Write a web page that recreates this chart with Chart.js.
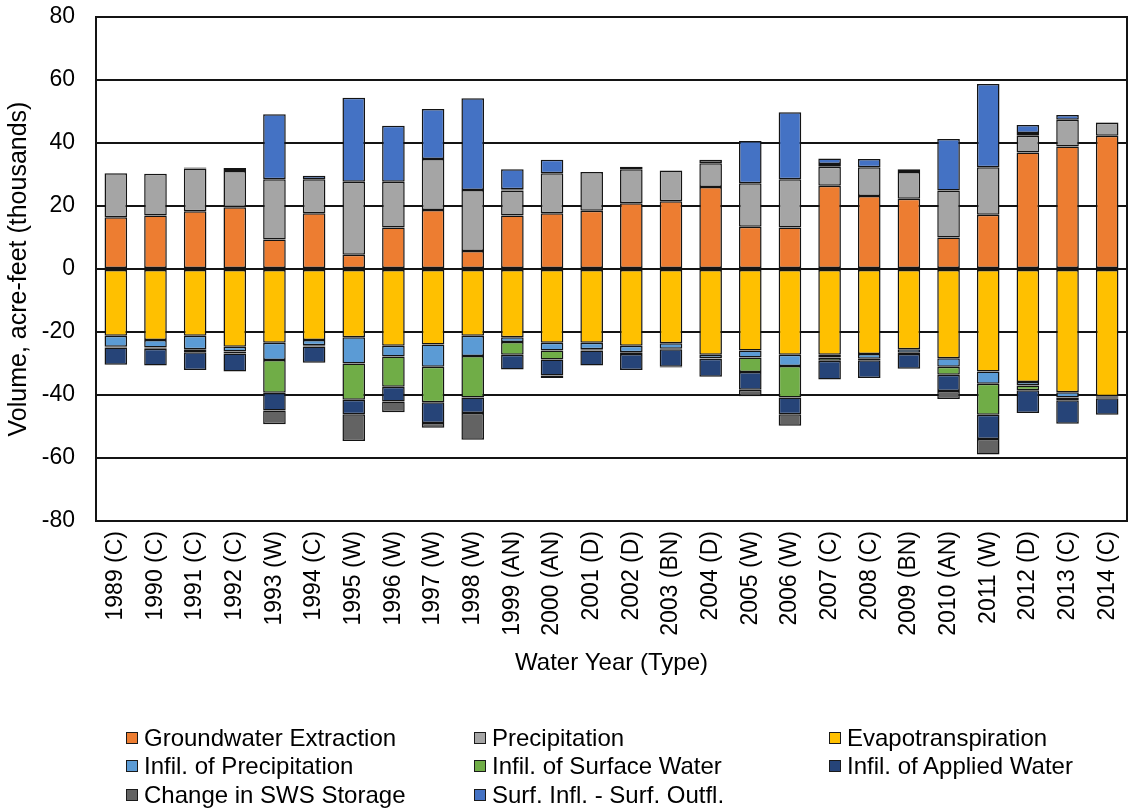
<!DOCTYPE html>
<html>
<head>
<meta charset="utf-8">
<script src="https://cdn.jsdelivr.net/npm/chart.js@4.4.1/dist/chart.umd.min.js"></script>
<style>
  html, body { margin: 0; padding: 0; background: #fff; }
  #wrap { position: relative; width: 1128px; height: 812px; }
  #legend { position: absolute; left: 0; top: 0; width: 1128px; height: 812px; pointer-events: none;
    font-family: "Liberation Sans", Arial, sans-serif; font-size: 24px; color: #000; }
  .item { position: absolute; display: flex; align-items: center; white-space: nowrap; height: 28px; }
  .swatch { width: 10px; height: 10px; border: 1.5px solid #1a1a1a; margin-right: 6px; }
</style>
</head>
<body>
<div id="wrap">
  <canvas id="budgetChart" width="1128" height="812"></canvas>
  <div id="legend"></div>
</div>
<script>
const years = ["1989 (C)", "1990 (C)", "1991 (C)", "1992 (C)", "1993 (W)", "1994 (C)",
  "1995 (W)", "1996 (W)", "1997 (W)", "1998 (W)", "1999 (AN)", "2000 (AN)", "2001 (D)",
  "2002 (D)", "2003 (BN)", "2004 (D)", "2005 (W)", "2006 (W)", "2007 (C)", "2008 (C)",
  "2009 (BN)", "2010 (AN)", "2011 (W)", "2012 (D)", "2013 (C)", "2014 (C)"];

// thousands of acre-feet
const groundwaterExtraction = [16.4, 17.0, 18.3, 19.6, 9.4, 17.7, 4.5, 13.2, 18.7, 5.7, 17.0, 17.7, 18.5,
  20.9, 21.5, 26.0, 13.4, 13.2, 26.4, 23.2, 22.3, 10.0, 17.2, 37.0, 38.9, 42.3];
const precipitation = [14.0, 13.2, 13.6, 11.5, 19.1, 10.8, 23.2, 14.5, 16.2, 19.4, 7.9, 12.7, 12.3,
  10.8, 9.8, 7.6, 13.8, 15.3, 6.1, 9.1, 8.5, 14.9, 15.1, 5.3, 8.5, 4.1];
const evapotranspiration = [-21.2, -22.5, -21.2, -24.7, -23.4, -22.5, -21.7, -24.4, -24.0, -21.2, -21.7, -23.4, -23.4,
  -24.4, -23.6, -27.2, -25.9, -27.2, -27.2, -27.0, -25.5, -28.3, -32.5, -35.9, -39.1, -40.4];
const infilPrecipitation = [-3.5, -2.4, -4.3, -1.5, -5.5, -1.7, -8.3, -3.4, -7.0, -6.4, -1.5, -2.5, -2.1,
  -2.0, -1.7, -1.1, -2.2, -3.6, -0.9, -1.5, -1.1, -2.7, -3.9, -1.1, -1.7, -0.3];
const infilSurfaceWater = [-0.2, -0.4, -0.9, -0.6, -10.4, -0.4, -11.5, -9.6, -11.3, -13.2, -4.0, -2.8, -0.4,
  -0.6, -0.2, -0.2, -4.6, -10.0, -1.0, -0.5, -0.4, -2.6, -9.9, -1.5, -0.9, -0.3];
const infilAppliedWater = [-5.5, -5.3, -5.7, -5.7, -5.6, -5.2, -4.6, -4.7, -6.6, -4.9, -4.7, -5.1, -4.7,
  -5.1, -5.5, -5.7, -5.6, -5.3, -6.0, -5.6, -4.7, -5.1, -7.7, -7.2, -7.4, -5.3];
const changeSwsStorage = [0, 0, 0.3, 1.0, -4.4, 0, -8.5, -3.4, -1.5, -8.5, 0.4, -0.8, 0,
  0.8, -0.3, 1.1, -2.1, -3.7, 0.8, 0, 0, -2.6, -4.9, 0.9, 0, 0.2];
const surfInflOutfl = [0, 0, 0, 0, 20.6, 1.1, 26.7, 17.8, 15.9, 29.1, 6.4, 4.3, 0,
  0, 0, 0, 13.4, 21.3, 1.8, 2.6, 0.9, 16.4, 26.4, 2.5, 1.5, 0];

const yTicks = [-80, -60, -40, -20, 0, 20, 40, 60, 80];

const series = [
  { label: "Groundwater Extraction", data: groundwaterExtraction, color: "#ED7D31" },
  { label: "Precipitation", data: precipitation, color: "#A5A5A5" },
  { label: "Evapotranspiration", data: evapotranspiration, color: "#FFC000" },
  { label: "Infil. of Precipitation", data: infilPrecipitation, color: "#5B9BD5" },
  { label: "Infil. of Surface Water", data: infilSurfaceWater, color: "#70AD47" },
  { label: "Infil. of Applied Water", data: infilAppliedWater, color: "#264478" },
  { label: "Change in SWS Storage", data: changeSwsStorage, color: "#636363" },
  { label: "Surf. Infl. - Surf. Outfl.", data: surfInflOutfl, color: "#4472C4" }
];

const FONT = "'Liberation Sans', Arial, sans-serif";
const INK = "#141414";

const frame = {
  id: "frame",
  afterDraw(chart) {
    const a = chart.chartArea, ctx = chart.ctx;
    ctx.save();
    ctx.strokeStyle = INK;
    ctx.lineWidth = 2;
    ctx.strokeRect(a.left, a.top, a.right - a.left, a.bottom - a.top);
    ctx.restore();
  }
};

new Chart(document.getElementById("budgetChart"), {
  type: "bar",
  data: {
    labels: years,
    datasets: series.map(s => ({
      label: s.label,
      data: s.data.map(v => (v === 0 ? null : v)),
      backgroundColor: s.color,
      borderColor: INK,
      borderWidth: 1.5,
      borderSkipped: false,
      stack: "budget",
      categoryPercentage: 1,
      barPercentage: 0.57
    }))
  },
  options: {
    responsive: false,
    animation: false,
    layout: { padding: { top: 17, right: 1, left: 0, bottom: 130 } },
    plugins: {
      legend: { display: false },
      tooltip: { enabled: false }
    },
    scales: {
      x: {
        stacked: true,
        grid: { display: false, drawTicks: false },
        border: { display: true, color: INK, width: 2 },
        ticks: {
          color: "#000",
          font: { family: FONT, size: 23 },
          minRotation: 90,
          maxRotation: 90,
          autoSkip: false,
          padding: 10
        },
        title: {
          display: true,
          text: "Water Year (Type)",
          color: "#000",
          font: { family: FONT, size: 24 },
          padding: { top: 0, bottom: 4 }
        },
        afterFit: (scale) => {
          scale.height = 812 - 130 - 521;
          scale.paddingLeft = 0;
          scale.paddingRight = 0;
        }
      },
      y: {
        stacked: true,
        min: -80,
        max: 80,
        afterBuildTicks: (scale) => { scale.ticks = yTicks.map(v => ({ value: v })); },
        grid: { color: INK, lineWidth: 2, drawTicks: false },
        border: { display: true, color: INK, width: 2 },
        ticks: {
          color: "#000",
          font: { family: FONT, size: 23 },
          padding: 21
        },
        title: {
          display: true,
          text: "Volume, acre-feet (thousands)",
          color: "#000",
          font: { family: FONT, size: 25 },
          padding: { top: 4, bottom: 0 }
        },
        afterFit: (scale) => {
          scale.width = 96;
          scale.paddingTop = 0;
          scale.paddingBottom = 0;
        }
      }
    }
  },
  plugins: [frame]
});

// legend in three columns, same order as the series
const legendEl = document.getElementById("legend");
const colX = [126, 474, 829];
const rowY = [724, 752, 781];
series.forEach((s, i) => {
  const item = document.createElement("div");
  item.className = "item";
  item.style.left = colX[i % 3] + "px";
  item.style.top = rowY[Math.floor(i / 3)] + "px";
  item.innerHTML = '<span class="swatch" style="background:' + s.color + '"></span><span>' + s.label + "</span>";
  legendEl.appendChild(item);
});
</script>
</body>
</html>
